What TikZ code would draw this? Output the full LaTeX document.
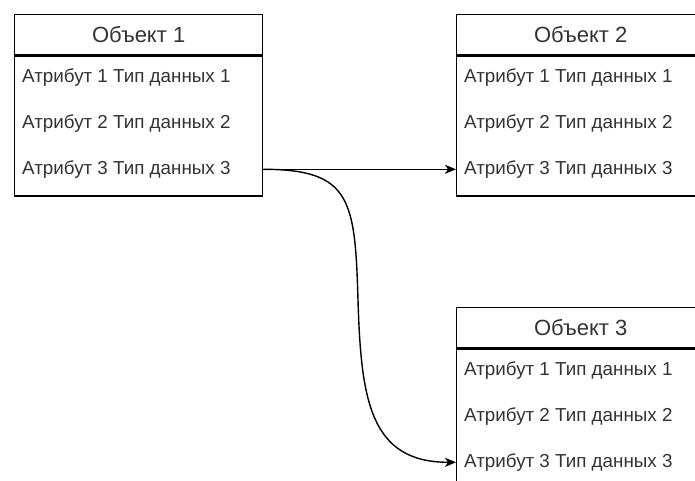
\documentclass[tikz,border=0pt]{standalone}
\usepackage{fontspec}
\setmainfont{Liberation Sans}
\usetikzlibrary{arrows.meta,calc}
\definecolor{txt}{HTML}{333333}
\begin{document}
\begin{tikzpicture}[x=1pt,y=-1pt,
  box/.style={draw=black,line width=1.3pt,minimum width=248pt,inner sep=0pt,anchor=north west},
  head/.style={box,minimum height=40pt,font=\fontsize{22}{24}\selectfont,text=txt},
  body/.style={box,minimum height=140pt},
  attr/.style={anchor=west,inner sep=0pt,font=\fontsize{18.8}{21}\selectfont,text=txt},
  link/.style={draw=black,line width=1.4pt,-{Stealth[length=11pt,width=9pt,inset=3pt]}}]
\useasboundingbox (0,0) rectangle (695,480);
\clip (0,0) rectangle (695,480);
\fill[white] (0,0) rectangle (695,480);
% Object 1
\node[head] (h1) at (14,14) {Объект 1};
\node[body] (b1) at (h1.south west) {};
\node[attr] (a11) at ($(b1.north west)+(8,22)$) {Атрибут 1 Тип данных 1};
\node[attr] (a12) at ($(b1.north west)+(8,68)$) {Атрибут 2 Тип данных 2};
\node[attr] (a13) at ($(b1.north west)+(8,114)$) {Атрибут 3 Тип данных 3};
% Object 2
\node[head] (h2) at (456,14) {Объект 2};
\node[body] (b2) at (h2.south west) {};
\node[attr] (a21) at ($(b2.north west)+(8,22)$) {Атрибут 1 Тип данных 1};
\node[attr] (a22) at ($(b2.north west)+(8,68)$) {Атрибут 2 Тип данных 2};
\node[attr] (a23) at ($(b2.north west)+(8,114)$) {Атрибут 3 Тип данных 3};
% Object 3
\node[head] (h3) at (456,307) {Объект 3};
\node[body] (b3) at (h3.south west) {};
\node[attr] (a31) at ($(b3.north west)+(8,22)$) {Атрибут 1 Тип данных 1};
\node[attr] (a32) at ($(b3.north west)+(8,68)$) {Атрибут 2 Тип данных 2};
\node[attr] (a33) at ($(b3.north west)+(8,114)$) {Атрибут 3 Тип данных 3};
% connectors
\coordinate (s1) at (b1.east |- a13);
\coordinate (t2) at (b2.west |- a23);
\coordinate (t3) at (b3.west |- a33);
\coordinate (m) at (358,300);
\draw[link] (s1) -- (t2);
\draw[link] (s1) .. controls ($(s1)+(88,0)$) and ($(m)+(-3,-100)$) .. (m)
  .. controls ($(m)+(3,100)$) and ($(t3)+(-86,0)$) .. (t3);
\end{tikzpicture}
\end{document}
